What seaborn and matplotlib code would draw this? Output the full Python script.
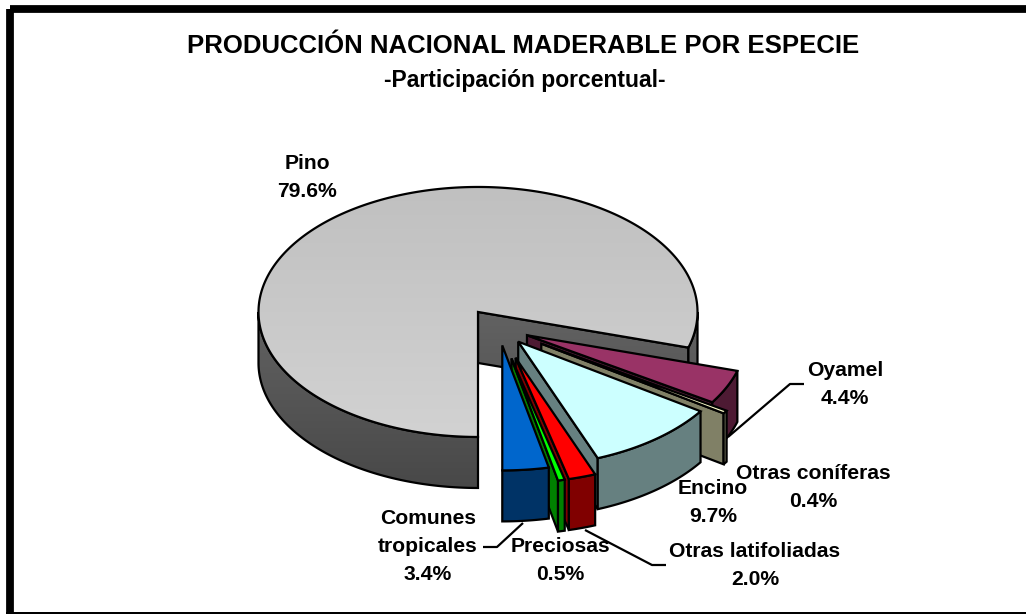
import numpy as np
import matplotlib
matplotlib.use("Agg")
import matplotlib.pyplot as plt
from matplotlib.patches import Polygon, Rectangle
import seaborn as sns

# ---- data ----
species = ["Pino", "Oyamel", "Otras coníferas", "Encino",
           "Otras latifoliadas", "Preciosas", "Comunes\ntropicales"]
shares = [79.6, 4.4, 0.4, 9.7, 2.0, 0.5, 3.4]
title = "PRODUCCIÓN NACIONAL MADERABLE POR ESPECIE"
subtitle = "-Participación porcentual-"

# ---- style ----
explode = [0.16, 0.14, 0.23, 0.14, 0.25, 0.25, 0.14]
top_colors = ["#C8C8C8", "#993366", "#FFFFCC", "#CCFFFF", "#FF0000", "#00FF00", "#0066CC"]
side_colors = ["#585858", "#4D1A33", "#808066", "#668080", "#800000", "#008000", "#003366"]
label_xy = [(307, 177.5), (845, 384.5), (813, 487.5), (713, 503), (755, 565.5), (560, 561), (428, 547)]
leaders = {1: [(728, 437), (790, 384), (804, 384)],
           4: [(585, 530), (652, 565), (666, 565)],
           6: [(523, 523), (497, 547), (483, 547)]}

sns.set_theme(style="white")
plt.rcParams["font.family"] = ["Liberation Sans", "DejaVu Sans"]

W, H = 1026, 614
fig = plt.figure(figsize=(W / 100, H / 100), dpi=100)
ax = fig.add_axes([0, 0, 1, 1])
ax.set_xlim(0, W)
ax.set_ylim(H, 0)
ax.axis("off")

CX, CY, RX, RY, DEPTH = 499.0, 328.0, 219.5, 125.0, 51.0
LW = 1.6
START = 180.0


def point(apex, deg):
    t = np.radians(deg)
    return apex[0] + RX * np.sin(t), apex[1] - RY * np.cos(t)


def arc(apex, a, b, dz=0.0):
    d = np.linspace(a, b, max(int(abs(b - a)) * 2, 2))
    t = np.radians(d)
    return np.column_stack([apex[0] + RX * np.sin(t), apex[1] - RY * np.cos(t) + dz])


def draw(verts, color, z, grad=None):
    p = Polygon(verts, closed=True, facecolor=color, edgecolor="black",
                linewidth=LW, joinstyle="miter", zorder=z + 0.2)
    if grad is None:
        ax.add_patch(p)
        return
    cmap, y0, y1 = grad
    fill = Polygon(verts, closed=True, transform=ax.transData, facecolor="none", edgecolor="none")
    ax.add_patch(fill)
    im = ax.imshow(np.linspace(0, 1, 256)[:, None], cmap=cmap, aspect="auto",
                   extent=(0, W, y1, y0), zorder=z + 0.1, vmin=0, vmax=1)
    im.set_clip_path(fill)
    p.set_facecolor("none")
    ax.add_patch(p)
    ax.set_xlim(0, W)
    ax.set_ylim(H, 0)


top_grad = (sns.blend_palette(["#C0C0C0", "#D2D2D2"], as_cmap=True), 187, 437)
side_grad = (sns.blend_palette(["#626262", "#484848"], as_cmap=True), 312, 489)

ang = START
for i, share in enumerate(shares):
    a, b = ang, ang + share * 3.6
    ang = b
    mid = np.radians((a + b) / 2)
    apex = (CX + explode[i] * RX * np.sin(mid), CY - explode[i] * RY * np.cos(mid))
    z = 2 + i
    gt = top_grad if i == 0 else None
    gs = side_grad if i == 0 else None
    # cut face at the trailing edge
    if np.cos(np.radians(b + 90)) < -1e-6:
        o = point(apex, b)
        draw([apex, o, (o[0], o[1] + DEPTH), (apex[0], apex[1] + DEPTH)], side_colors[i], z, gs)
    # visible outer wall (front half of the ellipse)
    for lo, hi in [(90, 270), (450, 630)]:
        u, v = max(a, lo), min(b, hi)
        if v > u:
            wall = np.vstack([arc(apex, u, v), arc(apex, v, u, DEPTH)])
            draw(wall, side_colors[i], z + 0.3, gs)
    # top face
    top = np.vstack([[apex], arc(apex, a, b)])
    draw(top, top_colors[i], z + 0.6, gt)

# leader lines
for pts in leaders.values():
    ax.plot(*zip(*pts), color="black", lw=1.6, zorder=20, solid_capstyle="butt")

# labels
for name, share, (x, y) in zip(species, shares, label_xy):
    ax.text(x, y, f"{name}\n{share:.1f}%", ha="center", va="center", fontsize=15.2,
            fontweight="bold", color="black", linespacing=1.6, zorder=30)

ax.text(523, 46, title, ha="center", va="center", fontsize=18.55, fontweight="bold", color="black", zorder=30)
ax.text(525, 81, subtitle, ha="center", va="center", fontsize=16.5, fontweight="bold", color="black", zorder=30)

# chart-area frame (runs off the right of the picture)
ax.add_patch(Rectangle((9.5, 9), W + 20, 620, facecolor="none", edgecolor="black",
                       linewidth=5.6, joinstyle="miter", zorder=40))
ax.add_patch(Rectangle((6, 612), W, 2, facecolor="black", edgecolor="none", zorder=40))

fig.savefig("out.png", dpi=100, facecolor="white")
